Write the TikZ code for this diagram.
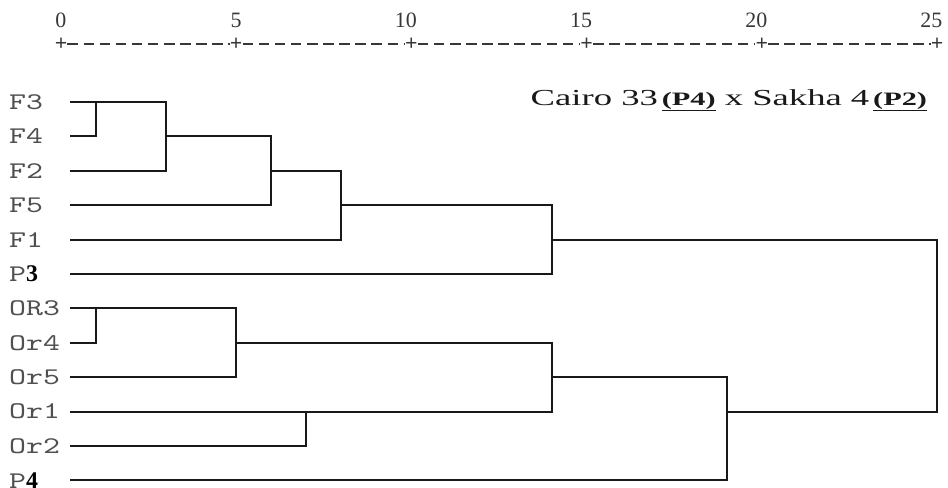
\documentclass[tikz,border=0pt]{standalone}
\usepackage{fontspec}
\setmainfont{Liberation Serif}
\newfontfamily\labfont{lmmono10-regular.otf}[FakeStretch=1.35]
\newfontfamily\titlefont[FakeStretch=1.6]{Liberation Serif}
\definecolor{treeK}{RGB}{25,25,25}
\definecolor{labG}{RGB}{80,80,80}
\definecolor{axisG}{RGB}{55,55,55}
\newcommand\bnum[1]{{\fontsize{24}{24}\rmfamily\bfseries\color{black}#1}}

\begin{document}
\begin{tikzpicture}[x=35.04bp,y=34.4bp,
  tree/.style={line width=2bp,treeK},
  leaf/.style={anchor=west,inner sep=0pt,font=\fontsize{24}{24}\labfont,labG},
  tick/.style={anchor=east,inner sep=0pt,font=\fontsize{22}{22}\selectfont,axisG},
  plus/.style={inner sep=0pt,font=\fontsize{22}{22}\selectfont\bfseries,axisG}]
\useasboundingbox (-1.741,2.965) rectangle (25.314,-11.221);
\foreach \t in {0,5,...,25}{
  \node[plus] (p\t) at (\t,1.686) {+};
  \node[tick] (n\t) at (\t+0.16,2.384) {\t};
}
\foreach \t [evaluate=\t as \u using int(\t+5)] in {0,5,...,20}
  \draw[axisG,line width=1.4bp,dash pattern=on 10.5bp off 5.6bp] (p\t) -- (p\u);
\foreach \nm/\lab [count=\i from 0] in {F3/F3,F4/F4,F2/F2,F5/F5,F1/F1,P3/P\bnum{3},
    OR3/OR3,Or4/Or4,Or5/Or5,Or1/Or1,Or2/Or2,P4/P\bnum{4}}{
  \node[leaf] (l\nm) at (-1.484,-\i) {\lab};
  \coordinate (\nm) at (0.257,-\i);
}
\coordinate (k1) at (1,0);
\coordinate (k2) at (3,-1);
\coordinate (k3) at (6,-2);
\coordinate (k4) at (8,-3);
\coordinate (k5) at (14,-4);
\coordinate (k6) at (1,-6);
\coordinate (k7) at (5,-7);
\coordinate (k8) at (7,-9);
\coordinate (k9) at (14,-8);
\coordinate (k10) at (19,-9);
\coordinate (k11) at (25,-6.5);
\draw[tree] (F3) -| (k1) |- (F4);
\draw[tree] (k1) -| (k2) |- (F2);
\draw[tree] (k2) -| (k3) |- (F5);
\draw[tree] (k3) -| (k4) |- (F1);
\draw[tree] (k4) -| (k5) |- (P3);
\draw[tree] (OR3) -| (k6) |- (Or4);
\draw[tree] (k6) -| (k7) |- (Or5);
\draw[tree] (Or1) -| (k8) |- (Or2);
\draw[tree] (k7) -| (k9) |- (k8);
\draw[tree] (k9) -| (k10) |- (P4);
\draw[tree] (k5) -| (k11) |- (k10);
\node[anchor=east,inner sep=0pt,font=\fontsize{23}{23}\titlefont,treeK] (ttl) at (24.72,0.05)
  {Cairo 33\,{\fontsize{19}{19}\selectfont\bfseries\underline{(P4)}} x Sakha 4\,{\fontsize{19}{19}\selectfont\bfseries\underline{(P2)}}};
\end{tikzpicture}
\end{document}
